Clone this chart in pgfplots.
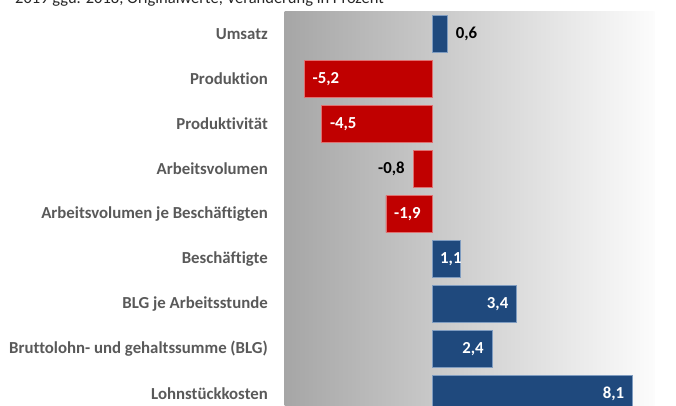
\documentclass[border=0pt]{standalone}
\usepackage{pgfplots}
\pgfplotsset{compat=1.18}
\usepackage{fontspec}
\setmainfont{Carlito}[Ligatures=NoCommon]
\definecolor{barblue}{HTML}{1F497D}
\definecolor{barblueedge}{HTML}{7F9CC0}
\definecolor{barred}{HTML}{C00000}
\definecolor{barrededge}{HTML}{E07070}
\definecolor{lblgray}{HTML}{595959}
\definecolor{gL}{HTML}{A6A6A6}
\definecolor{gM}{HTML}{E0E0E0}
\definecolor{gR}{HTML}{FCFCFC}
\newcommand{\lblfont}{\bfseries\fontsize{16.8}{19}\selectfont}
\begin{document}
\begin{tikzpicture}
\useasboundingbox (0,0) rectangle (676pt,-405pt);
\clip (0,0) rectangle (676pt,-405pt);
\node[anchor=base west, font=\fontsize{16.5}{19}\selectfont, text=black!85, inner sep=0pt] at (15pt,-3.5pt) {2019 ggü. 2018, Originalwerte, Veränderung in Prozent};
\begin{axis}[
 at={(284.7pt,-11.5pt)}, anchor=north west,
 scale only axis, width=370pt, height=405pt,
 xmin=-6, xmax=9, ymin=0.5, ymax=9.5, y dir=reverse,
 xbar, bar width=0.82,
 axis line style={draw=none}, xtick=\empty,
 ytick={1,2,3,4,5,6,7,8,9},
 yticklabels={Umsatz,Produktion,Produktivität,Arbeitsvolumen,Arbeitsvolumen je Beschäftigten,Beschäftigte,BLG je Arbeitsstunde,Bruttolohn- und gehaltssumme (BLG),Lohnstückkosten},
 major tick length=0pt,
 yticklabel style={font=\lblfont, text=lblgray, anchor=east, inner sep=0pt, xshift=-16.7pt},
 axis background/.style={shade, left color=gL, middle color=gM, right color=gR},
 point meta=explicit symbolic,
 clip=false,
]
\addplot[bar shift=0pt, fill=barblue, draw=barblueedge, line width=0.6pt, nodes near coords,
  every node near coord/.append style={font=\lblfont, anchor=east, inner sep=0pt, text=white, xshift=-8pt}]
  coordinates {(3.4,7)[3,4] (2.4,8)[2,4] (8.1,9)[8,1]};
\addplot[bar shift=0pt, fill=barblue, draw=barblueedge, line width=0.6pt, nodes near coords,
  every node near coord/.append style={font=\lblfont, anchor=east, inner sep=0pt, text=white, xshift=2pt}]
  coordinates {(1.1,6)[1,1]};
\addplot[bar shift=0pt, fill=barblue, draw=barblueedge, line width=0.6pt, nodes near coords,
  every node near coord/.append style={font=\lblfont, anchor=west, inner sep=0pt, text=black, xshift=8pt}]
  coordinates {(0.6,1)[0,6]};
\addplot[bar shift=0pt, fill=barred, draw=barrededge, line width=0.6pt, nodes near coords,
  every node near coord/.append style={font=\lblfont, anchor=west, inner sep=0pt, text=white, xshift=8pt}]
  coordinates {(-5.2,2)[-5,2] (-4.5,3)[-4,5] (-1.9,5)[-1,9]};
\addplot[bar shift=0pt, fill=barred, draw=barrededge, line width=0.6pt, nodes near coords,
  every node near coord/.append style={font=\lblfont, anchor=east, inner sep=0pt, text=black, xshift=-8pt}]
  coordinates {(-0.8,4)[-0,8]};
\end{axis}
\end{tikzpicture}
\end{document}
